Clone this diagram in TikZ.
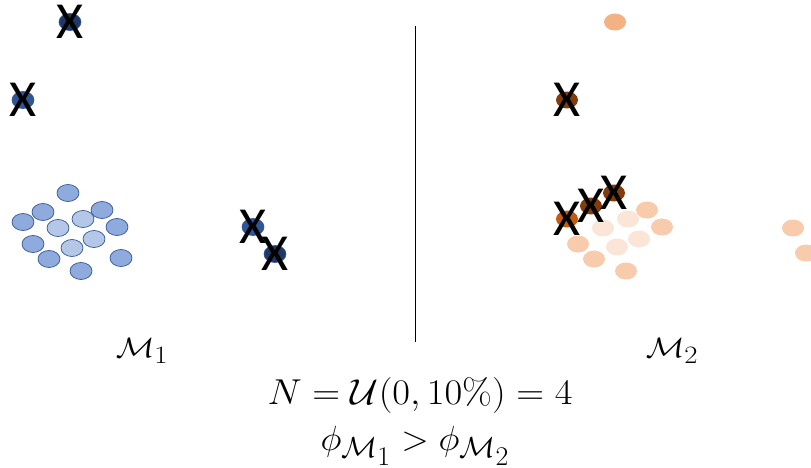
\RequirePackage{fix-cm}
\documentclass[tikz,border=0pt]{standalone}
\usepackage{amsmath}
\usepackage{fontspec}
\usepackage{graphicx}
\usetikzlibrary{shapes.geometric}
\newfontfamily\crossfont{Carlito}
\DeclareMathSizes{28}{28}{25}{22}
\DeclareMathSizes{35}{35}{29}{27}
\definecolor{blueedge}{HTML}{2F5597}
\definecolor{bluemid}{HTML}{8FAADC}
\definecolor{bluelight}{HTML}{B4C7E7}
\definecolor{bluedark}{HTML}{2F5597}
\definecolor{bluedeep}{HTML}{203864}
\definecolor{orangemid}{HTML}{F8CBAD}
\definecolor{orangelight}{HTML}{FBE5D6}
\definecolor{orangetop}{HTML}{F4B183}
\definecolor{orangedark}{HTML}{C55A11}
\definecolor{orangedeep}{HTML}{843C0C}

\begin{document}
\begin{tikzpicture}[x=1pt, y=-1pt,
  dot/.style={ellipse, minimum width=22pt, minimum height=17pt, inner sep=0pt},
  bdot/.style={dot, draw=blueedge, line width=0.7pt, fill=#1},
  odot/.style={dot, fill=#1},
  cross/.style={font=\crossfont\fontsize{52}{52}\selectfont, inner sep=0pt},
  lbl/.style={font=\fontsize{28}{28}\selectfont, inner sep=0pt, anchor=base},
  eqn/.style={font=\fontsize{36}{36}\selectfont, inner sep=0pt, anchor=base},
  eqnsub/.style={font=\fontsize{35}{35}\selectfont, inner sep=0pt, anchor=base}
]
\useasboundingbox (0,0) rectangle (811,468);

% model 1
\foreach \p [count=\i] in {(68,193),(43,212),(23,222),(102,210),(117,227),
    (33,244),(49,259),(81,271),(121,258)}
  \node[bdot=bluemid] (b\i) at \p {};
\foreach \p [count=\i] in {(58,228),(83,219),(72,248),(94,239)}
  \node[bdot=bluelight] (bl\i) at \p {};
\node[bdot=bluedeep] (bo1) at (70,22) {};
\node[bdot=bluedark] (bo2) at (23,100) {};
\node[bdot=bluedark] (bo3) at (253,227) {};
\node[bdot=bluedeep] (bo4) at (275,254) {};
\foreach \i in {1,...,4}
  \node[cross] (xb\i) at (bo\i) {X};

% model 2
\foreach \p [count=\i] in {(647,210),(662,227),(578,244),(594,259),(626,271),
    (793,228),(806,253)}
  \node[odot=orangemid] (o\i) at \p {};
\foreach \p [count=\i] in {(603,228),(628,219),(617,247),(639,239)}
  \node[odot=orangelight] (ol\i) at \p {};
\node[odot=orangetop] (ot) at (615,22) {};
\node[odot=orangedark] (oo1) at (567,219) {};
\node[odot=orangedeep] (oo2) at (591,206) {};
\node[odot=orangedeep] (oo3) at (614,193) {};
\node[odot=orangedeep] (oo4) at (567,100) {};
\foreach \i in {1,...,4}
  \node[cross] (xo\i) at (oo\i) {X};

% divider and labels
\coordinate (top) at (415,26);
\coordinate (bottom) at (415,342);
\draw[line width=0.8pt] (top) -- (bottom);
\node[lbl] (m1) at (142,357) {\scalebox{1.15}[1]{$\mathcal{M}_1$}};
\node[lbl] (m2) at (672,357) {\scalebox{1.15}[1]{$\mathcal{M}_2$}};
\node[eqn] (count) at (420,404) {\scalebox{1.07}[1]{$N = \mathcal{U}(0, 10\%) = 4$}};
\node[eqnsub] (order) at (415,450) {\scalebox{1.03}[1]{$\phi_{\mathcal{M}_1} > \phi_{\mathcal{M}_2}$}};
\end{tikzpicture}
\end{document}
